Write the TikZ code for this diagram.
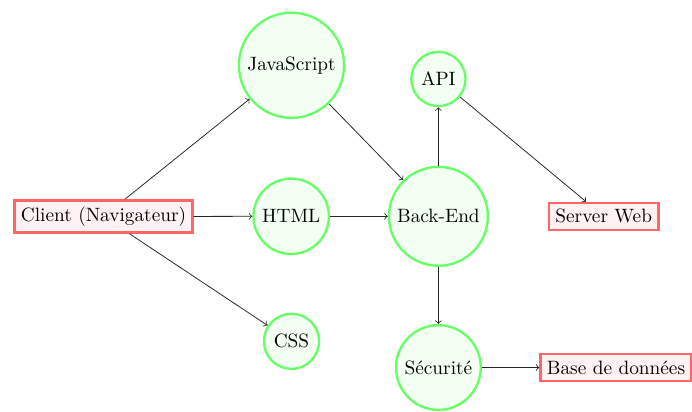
\documentclass[tikz,border=0pt]{standalone}
\begin{document}
\begin{tikzpicture}[x=0.518pt,y=-0.518pt,
  circ/.style={circle,draw=green!60,fill=green!5,very thick},
  rect/.style={rectangle,draw=red!60,fill=red!5,very thick},
  conn/.style={->,black!85}]
\useasboundingbox (0,0) rectangle (692,412);
\clip (0,0) rectangle (692,412);
\node[rect] (client) at (103.5,216.5) {Client (Navigateur)};
\node[circ] (html) at (291.2,216.3) {HTML};
\node[circ] (js) at (291.5,65.3) {JavaScript};
\node[circ] (css) at (291.5,341.3) {CSS};
\node[circ] (backend) at (438.4,216.3) {Back-End};
\node[circ] (api) at (438.4,79) {API};
\node[rect] (server) at (603.7,216.3) {Server Web};
\node[circ] (secu) at (438.4,367.5) {Sécurité};
\node[rect,anchor=west] (bdd) at (539.3,367.5) {Base de données};
\draw[conn] (client) -- (js);
\draw[conn] (client) -- (html);
\draw[conn] (client) -- (css);
\draw[conn] (js) -- (backend);
\draw[conn] (html) -- (backend);
\draw[conn] (backend) -- (api);
\draw[conn] (api) -- (server);
\draw[conn] (backend) -- (secu);
\draw[conn] (secu) -- (bdd);
\end{tikzpicture}
\end{document}
